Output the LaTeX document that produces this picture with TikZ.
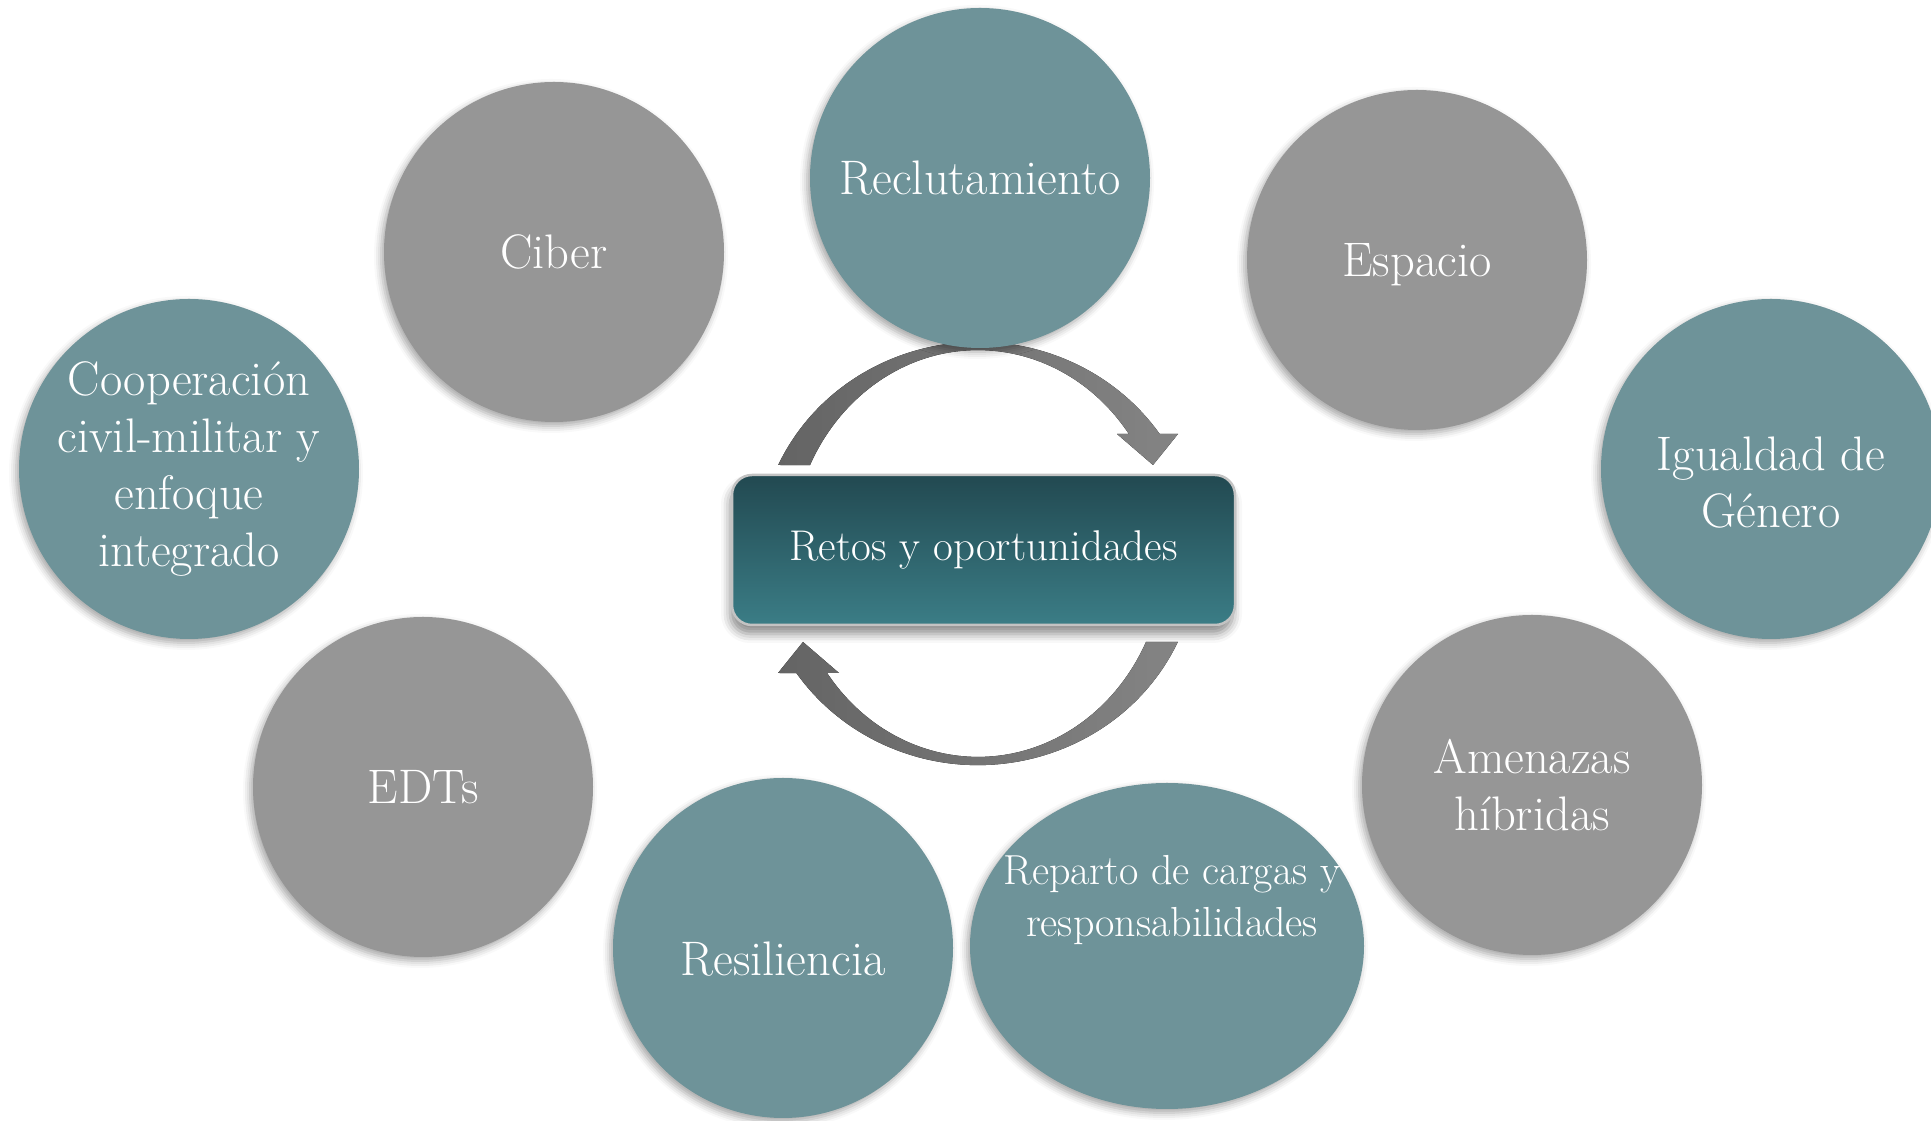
\documentclass[tikz,border=0pt]{standalone}
\usetikzlibrary{shapes.geometric,shadows.blur}
\definecolor{tealc}{RGB}{110,147,153}
\definecolor{grayc}{RGB}{150,150,150}
\definecolor{arrdark}{RGB}{100,100,100}
\definecolor{arrlight}{RGB}{132,132,132}
\definecolor{boxtop}{RGB}{34,73,81}
\definecolor{boxbot}{RGB}{59,125,134}
\definecolor{boxrim}{RGB}{195,195,195}
\newcommand\bubfont{\fontsize{48.5}{57}\selectfont}
\newcommand\repfont{\fontsize{42}{52}\selectfont}
\newcommand\boxfont{\fontsize{43}{50}\selectfont}
\begin{document}
\begin{tikzpicture}[x=1pt,y=1pt,
  softshadow/.style={blur shadow={shadow xshift=-3pt,shadow yshift=-4pt,shadow blur radius=7pt,shadow opacity=35}},
  bubble/.style={circle,minimum size=340pt,inner sep=0pt,text=white,align=center,font=\bubfont,softshadow},
  tealbub/.style={bubble,fill=tealc},
  graybub/.style={bubble,fill=grayc},
  bubtext/.style={text=white,align=center,inner sep=0pt},
  cyclearrow/.style={left color=arrdark,right color=arrlight}
]
\useasboundingbox (0,0) rectangle (1931,1121);
\clip (0,0) rectangle (1931,1121);

% cycle arrows (behind everything)
\begin{scope}[shift={(978,567.5)}]
  \fill[cyclearrow] (-199.8,88.5)
    arc[start angle=155.3,end angle=34.4,x radius=220,y radius=211.5]
    -- (200,119.5) -- (175,88.5) -- (139,119.5) -- (150.9,119.5)
    arc[start angle=36.07,end angle=154.15,x radius=186.7,y radius=204]
    -- cycle;
\end{scope}
\begin{scope}[shift={(978,567.5)},rotate=180]
  \fill[cyclearrow] (-199.8,88.5)
    arc[start angle=155.3,end angle=34.4,x radius=220,y radius=211.5]
    -- (200,119.5) -- (175,88.5) -- (139,119.5) -- (150.9,119.5)
    arc[start angle=36.07,end angle=154.15,x radius=186.7,y radius=204]
    -- cycle;
\end{scope}

% central box
\node[rectangle,rounded corners=20pt,minimum width=503pt,minimum height=150pt,
      top color=boxtop,bottom color=boxbot,draw=boxrim,line width=2.5pt,
      text=white,font=\boxfont,
      blur shadow={shadow xshift=-2pt,shadow yshift=-9pt,shadow blur radius=9pt,shadow opacity=45}]
  (center) at (983.5,571) {Retos y oportunidades};

% bubbles
\node[tealbub] (recl) at (980,943) {Reclutamiento};
\node[graybub] (ciber) at (554,869) {Ciber};
\node[graybub,text depth=0pt] (esp) at (1417,861) {Espacio};
\node[tealbub] (coop) at (189,652) {Cooperación\\civil-militar y\\enfoque\\integrado};
\node[tealbub] (igual) at (1771,652) {};
\node[bubtext,font=\bubfont] (igualtext) at ([yshift=-13.5pt]igual.center) {Igualdad de\\Género};
\node[graybub] (edts) at (423,334) {EDTs};
\node[tealbub,text height=56pt,text depth=0pt] (resil) at (783,173) {Resiliencia};
\node[graybub] (amen) at (1532,336) {Amenazas\\híbridas};
\node[ellipse,minimum width=394pt,minimum height=326pt,inner sep=0pt,fill=tealc,softshadow]
  (rep) at (1167,175) {};
\node[bubtext,font=\repfont]
  (reptext) at ([xshift=5pt,yshift=46pt]rep.center) {Reparto de cargas y\\responsabilidades};
\end{tikzpicture}
\end{document}
